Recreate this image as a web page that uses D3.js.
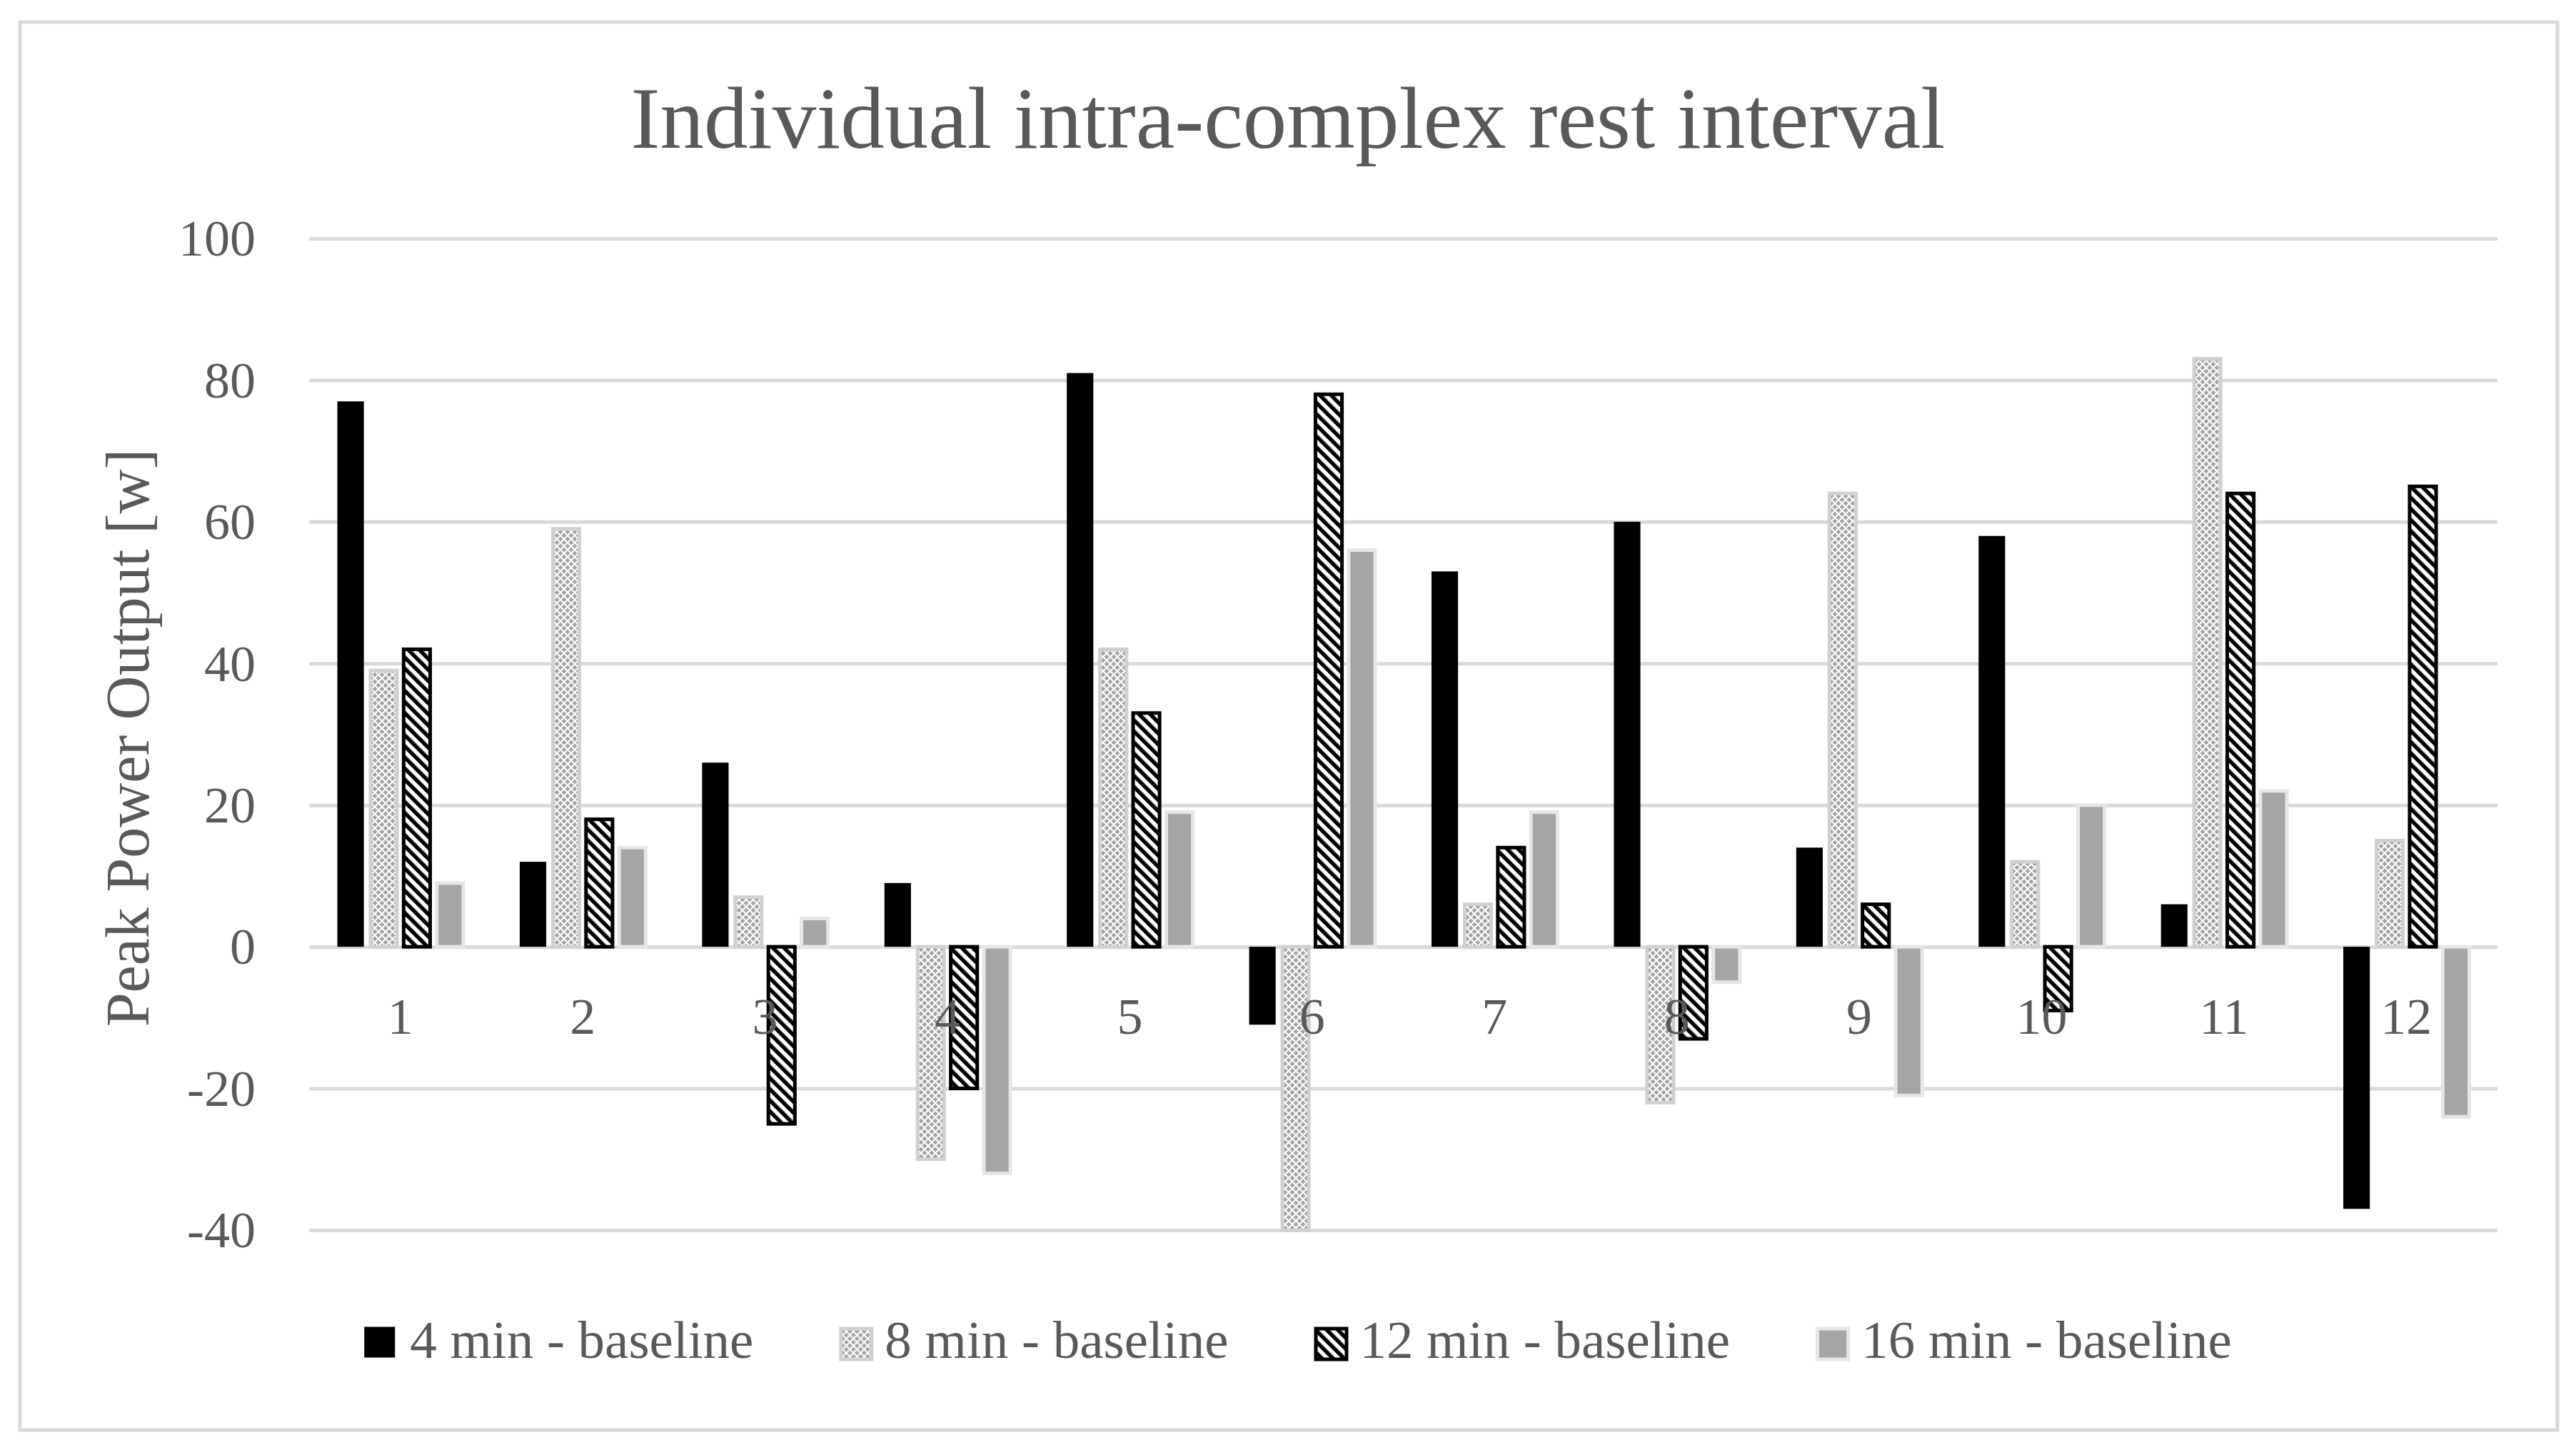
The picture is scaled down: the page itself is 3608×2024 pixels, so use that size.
<!DOCTYPE html>
<html>
<head>
<meta charset="utf-8">
<script src="https://cdn.jsdelivr.net/npm/d3@7"></script>
<style>
  html, body { margin: 0; padding: 0; background: #fff; }
  svg { display: block; }
  text { font-family: "Liberation Serif", "DejaVu Serif", serif; fill: #595959; }
</style>
</head>
<body>
<svg id="chart" width="3608" height="2024"></svg>
<script>
const categories = ["1","2","3","4","5","6","7","8","9","10","11","12"];
const seriesNames = ["4 min - baseline","8 min - baseline","12 min - baseline","16 min - baseline"];
const min4  = [77, 12, 26,   9, 81, -11, 53,  60, 14, 58,  6, -37];
const min8  = [39, 59,  7, -30, 42, -40,  6, -22, 64, 12, 83,  15];
const min12 = [42, 18, -25, -20, 33, 78, 14, -13,  6, -9, 64,  65];
const min16 = [ 9, 14,  4, -32, 19, 56, 19,  -5, -21, 20, 22, -24];
const yTicks = [-40, -20, 0, 20, 40, 60, 80, 100];
const titleText = "Individual intra-complex rest interval";
const yAxisTitle = "Peak Power Output [w]";

const seriesValues = [min4, min8, min12, min16];

const W = 3608, H = 2024;
const svg = d3.select("#chart");
const defs = svg.append("defs");

// patterns
const pat8 = defs.append("pattern").attr("id","pat8").attr("patternUnits","userSpaceOnUse")
  .attr("width",10).attr("height",10);
pat8.append("rect").attr("width",10).attr("height",10).attr("fill","#ffffff");
pat8.append("path").attr("d","M5,1.5 L8.5,5 L5,8.5 L1.5,5 Z").attr("fill","#a2a2a2");
pat8.append("path").attr("d","M0,-3.5 L3.5,0 L0,3.5 L-3.5,0 Z M10,-3.5 L13.5,0 L10,3.5 L6.5,0 Z M0,6.5 L3.5,10 L0,13.5 L-3.5,10 Z M10,6.5 L13.5,10 L10,13.5 L6.5,10 Z").attr("fill","#a2a2a2");

const pat12 = defs.append("pattern").attr("id","pat12").attr("patternUnits","userSpaceOnUse")
  .attr("width",11).attr("height",11).attr("patternTransform","rotate(-45)");
pat12.append("rect").attr("width",11).attr("height",11).attr("fill","#ffffff");
pat12.append("rect").attr("width",5.5).attr("height",11).attr("fill","#000000");

const fills   = ["#000000", "url(#pat8)", "url(#pat12)", "#a5a5a5"];
const strokes = ["none", "#d0d0d0", "#000000", "#e6e6e6"];

// outer border
svg.append("rect").attr("x",28).attr("y",31).attr("width",3554).attr("height",1972)
  .attr("fill","#fff").attr("stroke","#d9d9d9").attr("stroke-width",5);

const plot = {left: 433, right: 3498, top: 334, bottom: 1723};

const x = d3.scaleBand().domain(categories).range([plot.left, plot.right])
  .paddingInner(0.273).paddingOuter(0.1365);
const xs = d3.scaleBand().domain(d3.range(seriesNames.length)).range([0, x.bandwidth()])
  .paddingInner(0.2).paddingOuter(0.1);
const y = d3.scaleLinear().domain([-40, 100]).range([plot.bottom, plot.top]);

// gridlines
const grid = d3.axisLeft(y).tickValues(yTicks).tickSize(-(plot.right - plot.left)).tickFormat("");
svg.append("g").attr("transform", `translate(${plot.left},0)`).call(grid)
  .call(g => g.select(".domain").remove())
  .call(g => g.selectAll("line").attr("stroke","#d9d9d9").attr("stroke-width",5));

// y tick labels
const yAxis = d3.axisLeft(y).tickValues(yTicks).tickSize(0).tickPadding(75).tickFormat(d => String(d));
svg.append("g").attr("transform", `translate(${plot.left},0)`).call(yAxis)
  .call(g => g.select(".domain").remove())
  .call(g => g.selectAll("text").attr("font-family",null).attr("font-size",72)
     .attr("fill","#595959").attr("dy", "0.33em"));

// bars
const data = [];
categories.forEach((c, i) => seriesValues.forEach((vals, s) => data.push({c, s, v: vals[i]})));

svg.append("g").selectAll("rect").data(data).join("rect")
  .attr("x", d => x(d.c) + xs(d.s))
  .attr("width", xs.bandwidth())
  .attr("y", d => Math.min(y(d.v), y(0)))
  .attr("height", d => Math.abs(y(d.v) - y(0)))
  .attr("fill", d => fills[d.s])
  .attr("stroke", d => strokes[d.s])
  .attr("stroke-width", d => d.s === 0 ? 0 : 5);

// category labels
const xAxis = d3.axisBottom(x).tickSize(0).tickPadding(0);
svg.append("g").attr("transform", `translate(0,${y(0)})`).call(xAxis)
  .call(g => g.select(".domain").remove())
  .call(g => g.selectAll("text").attr("font-family",null).attr("font-size",72)
     .attr("fill","#595959").attr("dy", null).attr("y", 122));

// title
svg.append("text").attr("x", W/2).attr("y", 207).attr("text-anchor","middle")
  .attr("font-size",123).text(titleText);

// y axis title
svg.append("text").attr("transform", `translate(208,${(y(100)+y(-40))/2 + 5}) rotate(-90)`)
  .attr("text-anchor","middle").attr("font-size",86).text(yAxisTitle);

// legend
const legend = svg.append("g");
const items = legend.selectAll("g").data(seriesNames).join("g");
items.append("rect").attr("x", (d,i) => i === 0 ? 0 : 2.5).attr("y", (d,i) => i === 0 ? -21.5 : -19)
  .attr("width", 43).attr("height", 43)
  .attr("fill", (d,i) => fills[i]).attr("stroke", (d,i) => strokes[i])
  .attr("stroke-width", (d,i) => i === 0 ? 0 : 5);
items.append("text").attr("x", 64).attr("y", 22).attr("font-size",75).text(d => d);
let cx = 0;
const offs = [];
items.each(function(d) {
  offs.push(cx);
  const tw = d3.select(this).select("text").node().getComputedTextLength();
  cx += 64 + tw + 120;
});
const total = cx - 120;
const lx0 = 1818 - total / 2;
items.attr("transform", (d,i) => `translate(${lx0 + offs[i]},1880)`);
</script>
</body>
</html>
